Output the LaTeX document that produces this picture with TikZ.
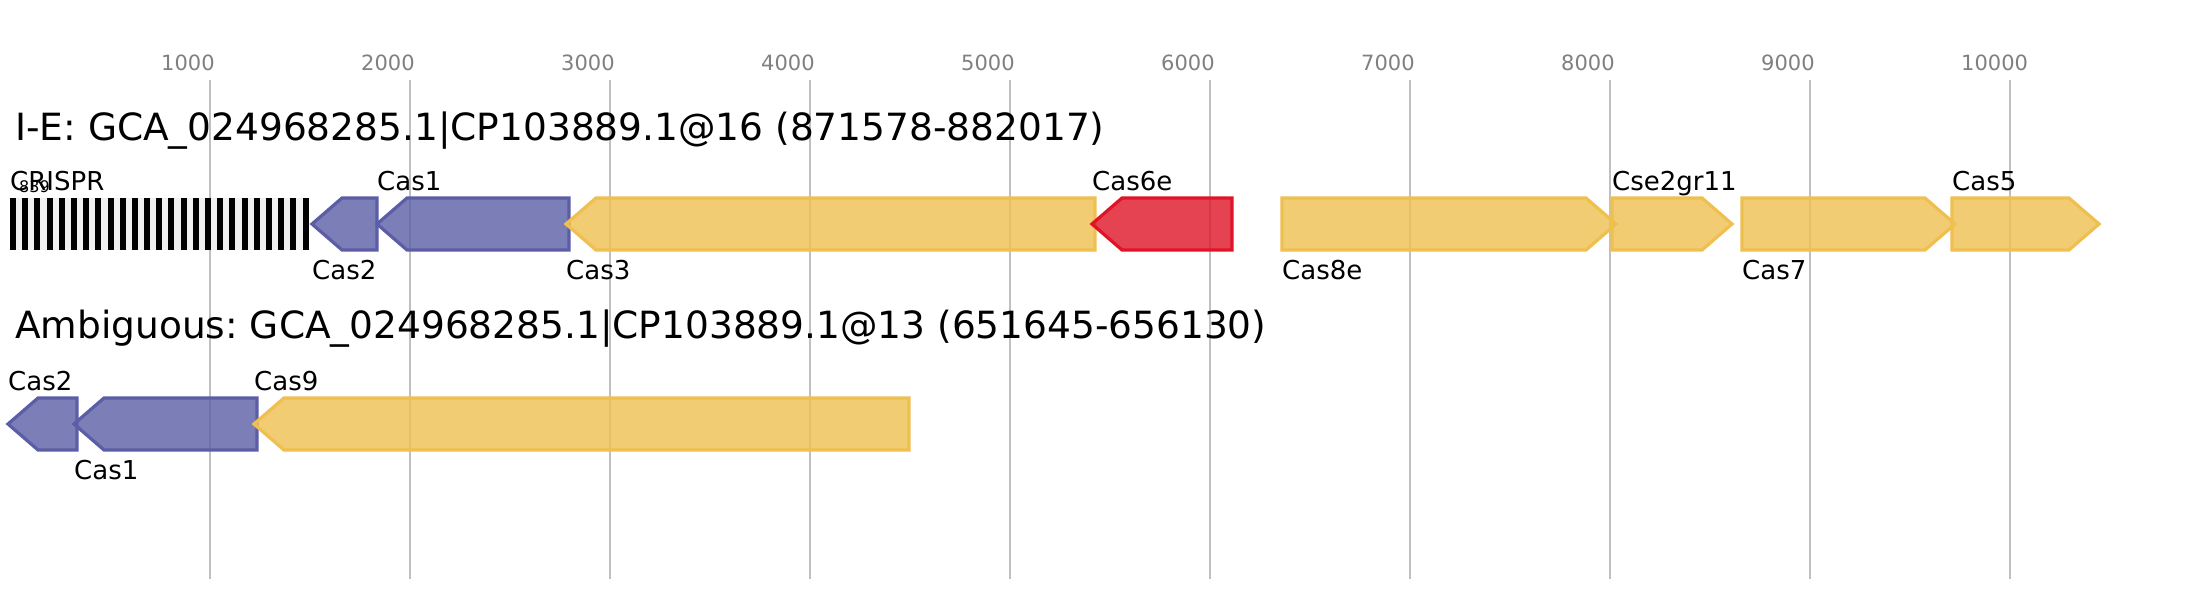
\documentclass[tikz,border=0pt]{standalone}
\usepackage{fontspec}
\setmainfont{DejaVu Sans}
\frenchspacing
\definecolor{cblue}{HTML}{5B5EA6}
\definecolor{cyel}{HTML}{EFC050}
\definecolor{cred}{HTML}{DF1527}
\definecolor{gridc}{HTML}{C0C0C0}
\definecolor{spacer}{HTML}{F0F0F0}
\tikzset{
  gridline/.style={draw=gridc, line width=2pt},
  ticklbl/.style={anchor=base west, inner sep=0pt, text=gray, font=\fontsize{21}{21}\selectfont},
  rowtitle/.style={anchor=base west, inner sep=0pt, font=\fontsize{37.5}{37.5}\selectfont},
  glbl/.style={anchor=base west, inner sep=0pt, font=\fontsize{26}{26}\selectfont},
  smalllbl/.style={anchor=base west, inner sep=0pt, font=\fontsize{16}{16}\selectfont},
  gblue/.style={draw=cblue, fill=cblue, fill opacity=0.8, line width=3.2pt, line join=miter},
  gyel/.style={draw=cyel, fill=cyel, fill opacity=0.8, line width=3.2pt, line join=miter},
  gred/.style={draw=cred, fill=cred, fill opacity=0.8, line width=3.2pt, line join=miter},
}
% left-pointing gene: tip x, back x, top y, style
\newcommand\geneL[4]{\draw[#4] (#1,#3+26) -- (#1+30,#3) -- (#2,#3) -- (#2,#3+52) -- (#1+30,#3+52) -- cycle;}
% right-pointing gene: back x, tip x, top y, style
\newcommand\geneR[4]{\draw[#4] (#1,#3) -- (#2-30,#3) -- (#2,#3+26) -- (#2-30,#3+52) -- (#1,#3+52) -- cycle;}
\begin{document}
\begin{tikzpicture}[x=1pt,y=-1pt]
\useasboundingbox (0,0) rectangle (2188,600);
\fill[white] (0,0) rectangle (2188,600);
% grid
\foreach \k in {1,...,10} {
  \draw[gridline] (10+200*\k,80) -- (10+200*\k,579);
  \node[ticklbl] (tick\k) at (10+200*\k-49,70) {\k000};
}
% titles
\node[rowtitle] (title1) at (15,140) {I-E: GCA\_024968285.1|CP103889.1@16 (871578-882017)};
\node[rowtitle] (title2) at (15,338) {Ambiguous: GCA\_024968285.1|CP103889.1@13 (651645-656130)};
% row 1: CRISPR array
\fill[spacer] (10,198) rectangle (308,250);
\foreach \i in {0,...,24} { \fill[black] (10+\i*12.19,198) rectangle ++(6,52); }
\node[glbl] (crispr) at (10,190) {CRISPR};
\node[smalllbl] (crisprn) at (19,192) {839};
% row 1 genes
\geneL{312}{377}{198}{gblue}
\geneL{377}{569}{198}{gblue}
\geneL{566}{1095}{198}{gyel}
\geneL{1092}{1232}{198}{gred}
\geneR{1282}{1616}{198}{gyel}
\geneR{1612}{1732}{198}{gyel}
\geneR{1742}{1955}{198}{gyel}
\geneR{1952}{2099}{198}{gyel}
\node[glbl] (l-cas2a) at (312,279) {Cas2};
\node[glbl] (l-cas1a) at (377,190) {Cas1};
\node[glbl] (l-cas3) at (566,279) {Cas3};
\node[glbl] (l-cas6e) at (1092,190) {Cas6e};
\node[glbl] (l-cas8e) at (1282,279) {Cas8e};
\node[glbl] (l-cse2) at (1612,190) {Cse2gr11};
\node[glbl] (l-cas7) at (1742,279) {Cas7};
\node[glbl] (l-cas5) at (1952,190) {Cas5};
% row 2 genes
\geneL{8}{77}{398}{gblue}
\geneL{74}{257}{398}{gblue}
\geneL{254}{909}{398}{gyel}
\node[glbl] (l-cas2b) at (8,390) {Cas2};
\node[glbl] (l-cas1b) at (74,479) {Cas1};
\node[glbl] (l-cas9) at (254,390) {Cas9};
\end{tikzpicture}
\end{document}
